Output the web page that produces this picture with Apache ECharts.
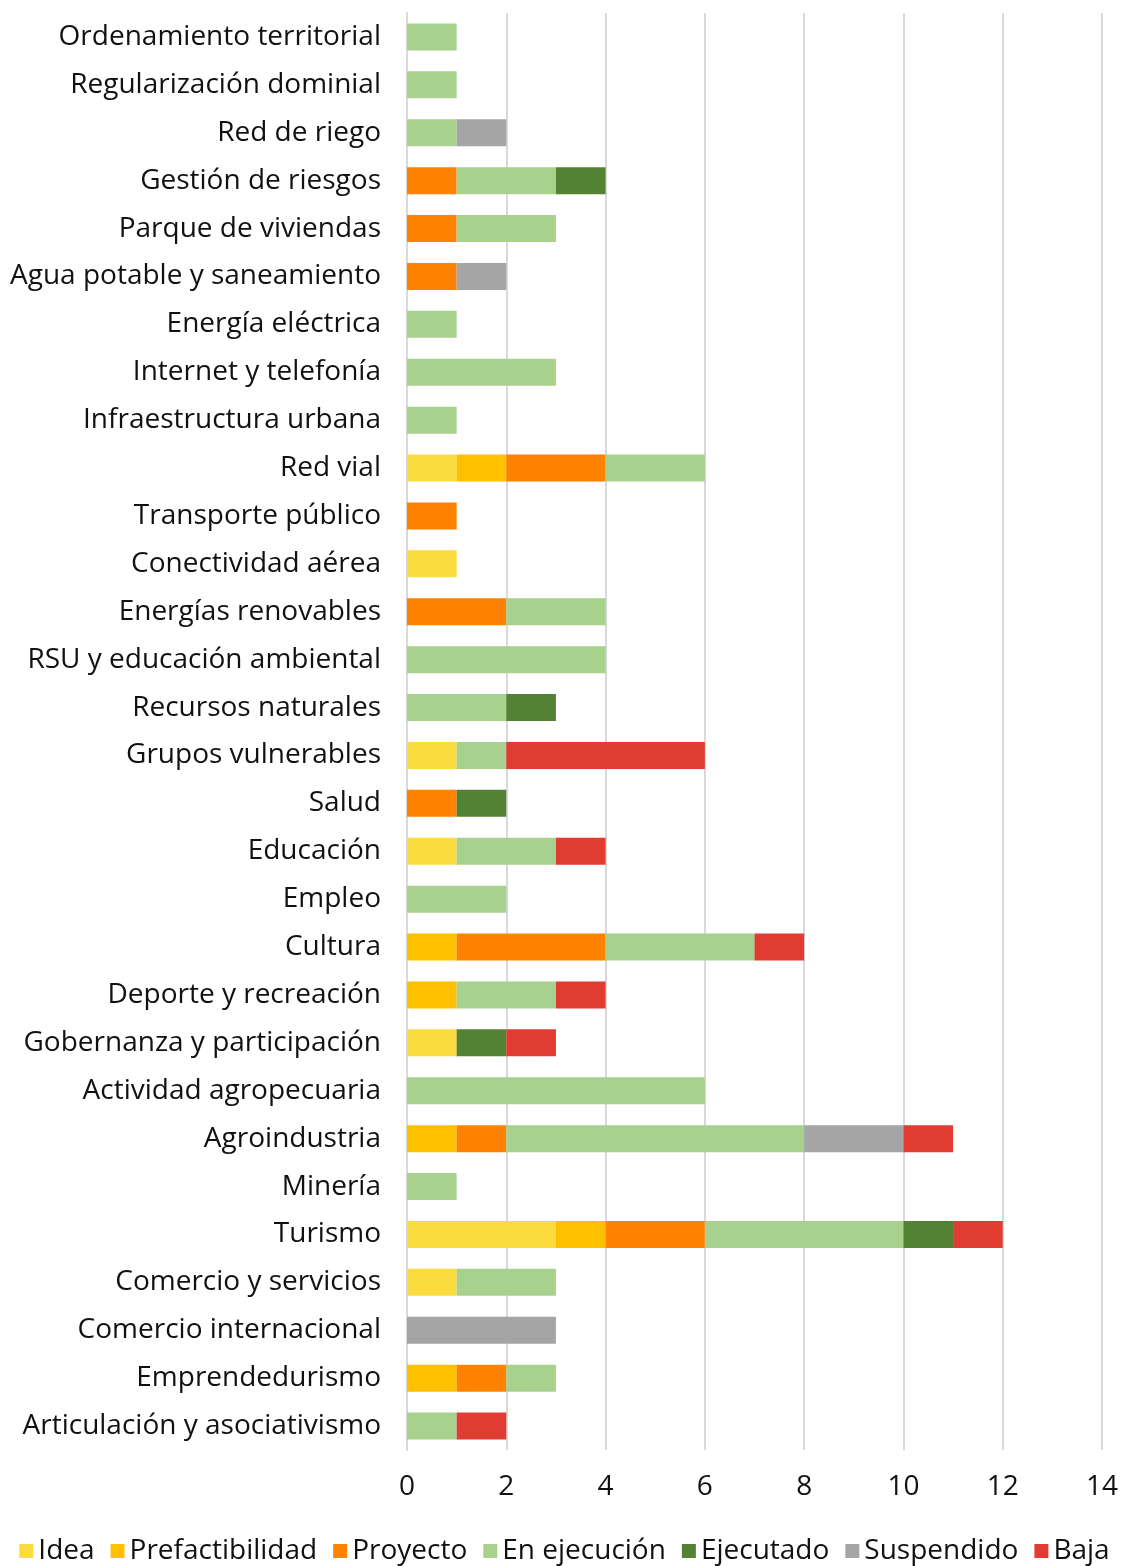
<!DOCTYPE html>
<html>
<head>
<meta charset="utf-8">
<script src="https://cdn.jsdelivr.net/npm/echarts@6/dist/echarts.min.js"></script>
<style>
html,body{margin:0;padding:0;background:#fff;}
#chart{width:1129px;height:1566px;}
</style>
</head>
<body>
<div id="chart"></div>
<script>
const categories = ["Ordenamiento territorial","Regularización dominial","Red de riego","Gestión de riesgos","Parque de viviendas","Agua potable y saneamiento","Energía eléctrica","Internet y telefonía","Infraestructura urbana","Red vial","Transporte público","Conectividad aérea","Energías renovables","RSU y educación ambiental","Recursos naturales","Grupos vulnerables","Salud","Educación","Empleo","Cultura","Deporte y recreación","Gobernanza y participación","Actividad agropecuaria","Agroindustria","Minería","Turismo","Comercio y servicios","Comercio internacional","Emprendedurismo","Articulación y asociativismo"];
const seriesNames = ["Idea","Prefactibilidad","Proyecto","En ejecución","Ejecutado","Suspendido","Baja"];
const idea =            [0,0,0,0,0,0,0,0,0,1,0,1,0,0,0,1,0,1,0,0,0,1,0,0,0,3,1,0,0,0];
const prefactibilidad = [0,0,0,0,0,0,0,0,0,1,0,0,0,0,0,0,0,0,0,1,1,0,0,1,0,1,0,0,1,0];
const proyecto =        [0,0,0,1,1,1,0,0,0,2,1,0,2,0,0,0,1,0,0,3,0,0,0,1,0,2,0,0,1,0];
const enEjecucion =     [1,1,1,2,2,0,1,3,1,2,0,0,2,4,2,1,0,2,2,3,2,0,6,6,1,4,2,0,1,1];
const ejecutado =       [0,0,0,1,0,0,0,0,0,0,0,0,0,0,1,0,1,0,0,0,0,1,0,0,0,1,0,0,0,0];
const suspendido =      [0,0,1,0,0,1,0,0,0,0,0,0,0,0,0,0,0,0,0,0,0,0,0,2,0,0,0,3,0,0];
const baja =            [0,0,0,0,0,0,0,0,0,0,0,0,0,0,0,4,0,1,0,1,1,1,0,1,0,1,0,0,0,1];
const xTicks = [0,2,4,6,8,10,12,14];
const colors = ["#FBDC3E","#FFC000","#FF8300","#A9D18E","#548235","#A5A5A5","#E03C31"];
const values = [idea,prefactibilidad,proyecto,enEjecucion,ejecutado,suspendido,baja];

const FONT = "Open Sans";
const chart = echarts.init(document.getElementById('chart'), null, {renderer:'canvas'});
chart.setOption({
  animation:false,
  color: colors,
  textStyle:{fontFamily:FONT},
  grid:{left:407,right:27,top:13,bottom:116,containLabel:false},
  legend:{
    bottom:-4, left:'center',
    itemWidth:14,itemHeight:14,itemGap:16,
    icon:'rect',
    textStyle:{fontSize:28,color:'#111',fontFamily:FONT},
    data:seriesNames
  },
  xAxis:{
    type:'value',min:xTicks[0],max:xTicks[xTicks.length-1],interval:2,
    axisLine:{show:false},axisTick:{show:false},
    splitLine:{lineStyle:{color:'#d9d9d9',width:2}},
    axisLabel:{fontSize:28,color:'#111',margin:23,fontFamily:FONT}
  },
  yAxis:{
    type:'category',inverse:true,data:categories,
    axisLine:{lineStyle:{color:'#d9d9d9',width:2}},
    axisTick:{show:false},
    axisLabel:{fontSize:28,color:'#111',margin:26,fontFamily:FONT}
  },
  series: seriesNames.map((n,i)=>({
    name:n,type:'bar',stack:'total',barWidth:27,
    data: values[i].map(v=>v===0?null:v),
    itemStyle:{color:colors[i]}
  }))
});
</script>
</body>
</html>
